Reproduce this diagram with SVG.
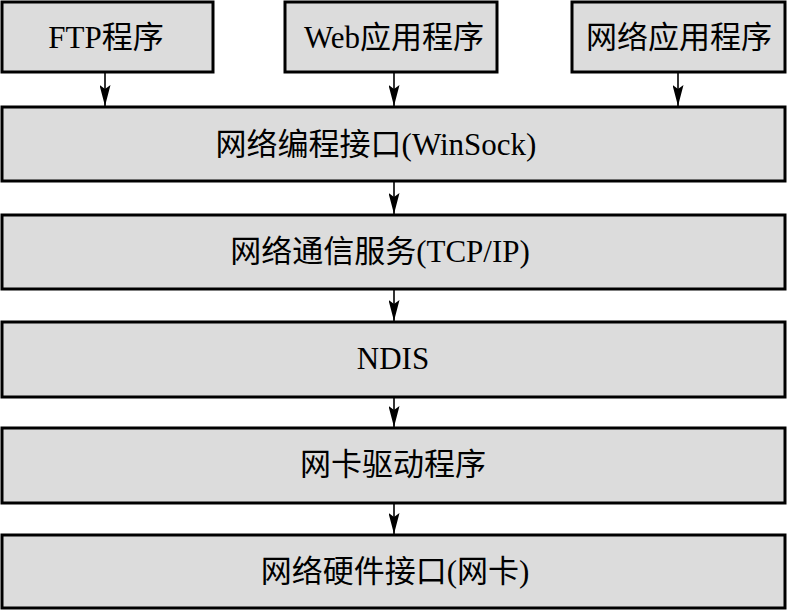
<svg xmlns="http://www.w3.org/2000/svg" width="787" height="611" viewBox="0 0 787 611">
<style>
.box{fill:#dcdcdc;stroke:#000;stroke-width:3}
.t{font-family:"Liberation Serif","Noto Sans CJK SC",serif;font-size:31px;fill:#000;text-anchor:middle}
.c{stroke:#000;stroke-width:1.6;fill:none}
</style>
<defs>
<marker id="ah" markerUnits="userSpaceOnUse" markerWidth="22" markerHeight="11" refX="21" refY="5.5" orient="auto" viewBox="0 0 22 11">
<path d="M0,0 L21,5.5 L0,11 L4,5.5 Z" fill="#000"/>
</marker>
</defs>
<g id="connectors">
<line class="c" x1="105" y1="72" x2="105" y2="106" marker-end="url(#ah)"/>
<line class="c" x1="394" y1="72" x2="394" y2="106" marker-end="url(#ah)"/>
<line class="c" x1="678" y1="72" x2="678" y2="106" marker-end="url(#ah)"/>
<line class="c" x1="394" y1="182" x2="394" y2="214" marker-end="url(#ah)"/>
<line class="c" x1="394" y1="290" x2="394" y2="321" marker-end="url(#ah)"/>
<line class="c" x1="394" y1="398" x2="394" y2="427" marker-end="url(#ah)"/>
<line class="c" x1="394" y1="503" x2="394" y2="534" marker-end="url(#ah)"/>
</g>
<g id="ftp"><rect class="box" x="2" y="2" width="211" height="70"/><text class="t" x="106" y="48">FTP程序</text></g>
<g id="web"><rect class="box" x="285" y="2" width="212" height="70"/><text class="t" x="394" y="48">Web应用程序</text></g>
<g id="netapp"><rect class="box" x="572" y="2" width="213" height="70"/><text class="t" x="679" y="48">网络应用程序</text></g>
<g id="winsock"><rect class="box" x="2" y="107" width="783" height="74"/><text class="t" x="376" y="155">网络编程接口(WinSock)</text></g>
<g id="tcpip"><rect class="box" x="2" y="215" width="783" height="74"/><text class="t" x="380" y="262">网络通信服务(TCP/IP)</text></g>
<g id="ndis"><rect class="box" x="2" y="322" width="783" height="75"/><text class="t" x="393" y="369">NDIS</text></g>
<g id="driver"><rect class="box" x="2" y="428" width="783" height="75"/><text class="t" x="393" y="475">网卡驱动程序</text></g>
<g id="hw"><rect class="box" x="2" y="535" width="783" height="73"/><text class="t" x="395" y="582">网络硬件接口(网卡)</text></g>
</svg>
